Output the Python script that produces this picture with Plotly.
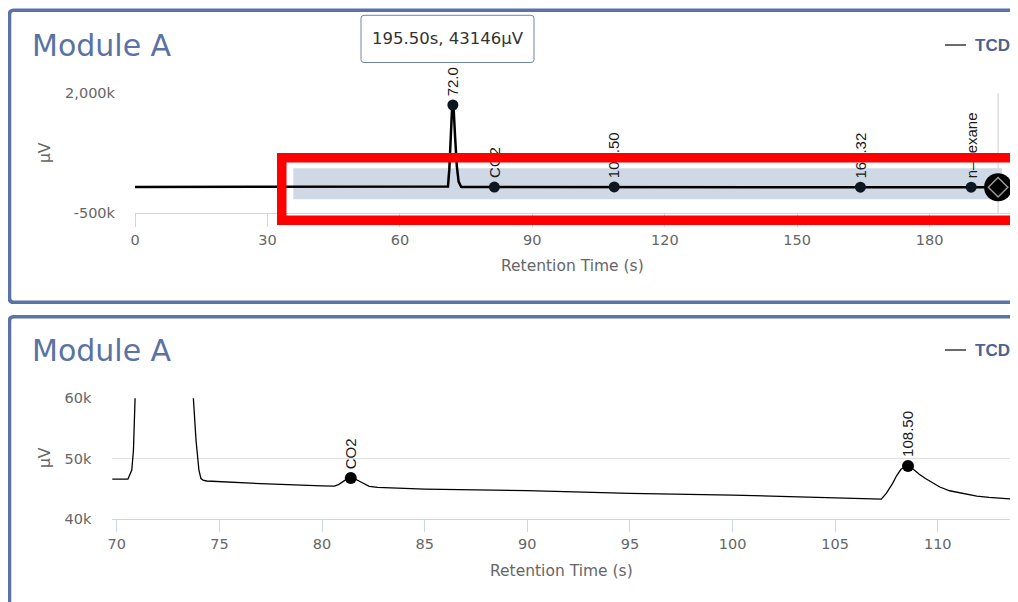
import plotly.graph_objects as go

# ---------------- data ----------------
time_s = [0, 30, 55, 70.0, 70.54, 70.73, 70.81, 70.89, 71.2, 71.5, 71.8, 72.0, 72.2, 72.5,
          72.9, 73.3, 73.73, 73.86, 74.0, 74.1, 74.2, 74.38, 75, 77, 80, 80.6, 80.8, 81.0,
          81.2, 81.4, 81.6, 81.8, 82.0, 82.3, 82.7, 85, 90, 95, 100, 105, 107.25, 107.5,
          107.8, 108.0, 108.2, 108.4, 108.55, 108.75, 108.95, 109.1, 109.4, 109.77, 110.1,
          110.58, 111.4, 111.9, 112.5, 113.0, 113.5, 130, 150, 164.0, 164.32, 164.7, 180,
          189.1, 189.4, 189.7, 195.5]
signal_uv = [46600, 46600, 46600, 46560, 46600, 48100, 51400, 60000, 420000, 1150000, 1650000,
             1756000, 1640000, 1100000, 480000, 160000, 60000, 53000, 48100, 46700, 46450,
             46300, 46170, 45850, 45500, 45450, 45700, 46150, 46600, 46800, 46650, 46300,
             45900, 45400, 45250, 44960, 44700, 44250, 43970, 43500, 43300, 44300, 45900,
             47200, 48200, 48700, 48800, 48400, 47800, 47400, 46700, 45900, 45300, 44680,
             44080, 43800, 43590, 43420, 43330, 43250, 43200, 43150, 44200, 43150, 43150,
             43150, 44000, 43150, 43146]

peak_times = [72.0, 81.4, 108.55, 164.32, 189.4]
peak_values = [1756000, 46800, 48800, 44200, 44000]
peak_labels = ["72.0", "CO2", "108.50", "164.32", "n\u2013hexane"]

hover_time = 195.5
hover_value = 43146
tooltip_text = "195.50s, 43146\u00b5V"

band_x = [35.85, 196.35]
band_y = [-208000, 437500]

top_x_range = [0, 198.2]
top_y_range = [-500000, 2000000]
top_y_ticks = [-500000, 2000000]
top_y_ticktext = ["-500k", "2,000k"]
top_x_ticks = [0, 30, 60, 90, 120, 150, 180]

bot_x_range = [69.78, 113.52]
bot_y_range = [40000, 60000]
bot_y_ticks = [40000, 50000, 60000]
bot_y_ticktext = ["40k", "50k", "60k"]
bot_x_ticks = [70, 75, 80, 85, 90, 95, 100, 105, 110]

panel_title = "Module A"
series_name = "TCD"
x_title = "Retention Time (s)"
y_title = "\u00b5V"

# ---------------- geometry helpers (page pixels -> paper) ----------------
W, H, OFF = 1010, 594, 8


def fx(x):
    return (x - OFF) / W


def fy(y):
    return 1 - (y - OFF) / H


BORDER = "#5a72a4"
TICK_COL = "#666666"
AXIS_LINE = "#ccd6eb"
GRID = "#e0e0e0"
FONT = "DejaVu Sans"

fig = go.Figure()

# top chart
fig.add_trace(go.Scatter(x=time_s, y=signal_uv, mode="lines", xaxis="x", yaxis="y",
                         line=dict(color="#000000", width=2.5), showlegend=False, hoverinfo="skip"))
fig.add_trace(go.Scatter(x=peak_times, y=peak_values, mode="markers", xaxis="x", yaxis="y",
                         marker=dict(color="#0e1621", size=11), showlegend=False))
fig.add_trace(go.Scatter(x=[hover_time], y=[hover_value], mode="markers", xaxis="x", yaxis="y",
                         marker=dict(color="#000000", size=28), cliponaxis=False, showlegend=False))
fig.add_trace(go.Scatter(x=[hover_time], y=[hover_value], mode="markers", xaxis="x", yaxis="y",
                         marker=dict(symbol="diamond-open", color="#9a9a9a", size=15,
                                     line=dict(width=1.5)),
                         cliponaxis=False, showlegend=False))

# bottom chart
fig.add_trace(go.Scatter(x=time_s, y=signal_uv, mode="lines", xaxis="x2", yaxis="y2",
                         line=dict(color="#000000", width=1.3), showlegend=False))
fig.add_trace(go.Scatter(x=peak_times, y=peak_values, mode="markers", xaxis="x2", yaxis="y2",
                         marker=dict(color="#000000", size=12), showlegend=False))

axis_common = dict(zeroline=False, automargin=False, fixedrange=True,
                   tickfont=dict(family=FONT, size=14.5, color=TICK_COL))

fig.update_layout(
    width=W, height=H, autosize=False,
    margin=dict(l=0, r=0, t=0, b=0, pad=0),
    paper_bgcolor="white", plot_bgcolor="rgba(0,0,0,0)",
    font=dict(family=FONT, color=TICK_COL),
    showlegend=False,
    xaxis=dict(domain=[fx(135), fx(1010)], anchor="y", range=top_x_range,
               tickvals=top_x_ticks, ticks="outside", ticklen=13, tickcolor=AXIS_LINE,
               showgrid=False, showline=True, linecolor=AXIS_LINE, linewidth=1,
               **axis_common),
    yaxis=dict(domain=[fy(213.3), fy(93.3)], anchor="x", range=top_y_range,
               tickvals=top_y_ticks, ticktext=top_y_ticktext, ticks="", showline=False,
               ticklabelstandoff=19, showgrid=True, gridcolor=GRID, gridwidth=1,
               **axis_common),
    xaxis2=dict(domain=[fx(112.3), fx(1010)], anchor="y2", range=bot_x_range,
                tickvals=bot_x_ticks, ticks="outside", ticklen=12, tickcolor=AXIS_LINE,
                showgrid=False, showline=True, linecolor=AXIS_LINE, linewidth=1,
                **axis_common),
    yaxis2=dict(domain=[fy(519), fy(398.3)], anchor="x2", range=bot_y_range,
                tickvals=bot_y_ticks, ticktext=bot_y_ticktext, ticks="", showline=False,
                ticklabelstandoff=20, showgrid=True, gridcolor=GRID, gridwidth=1,
                **axis_common),
)

shapes = []
# panel borders (rounded left corners)
r = 4
for top, bottom in [(10.3, 302.3), (316.7, 640)]:
    x0 = 9.5
    path = (f"M {fx(1060)} {fy(top)} L {fx(x0 + r)} {fy(top)} "
            f"Q {fx(x0)} {fy(top)} {fx(x0)} {fy(top + r)} "
            f"L {fx(x0)} {fy(bottom - r)} Q {fx(x0)} {fy(bottom)} {fx(x0 + r)} {fy(bottom)} "
            f"L {fx(1060)} {fy(bottom)}")
    shapes.append(dict(type="path", xref="paper", yref="paper", path=path,
                       line=dict(color=BORDER, width=3.6), layer="above"))

# selection band on top chart
shapes.append(dict(type="rect", xref="x", yref="y", x0=band_x[0], x1=band_x[1],
                   y0=band_y[0], y1=band_y[1], fillcolor="#cfd9e5", line=dict(width=0),
                   layer="below"))
# crosshair
shapes.append(dict(type="line", xref="x", yref="y domain", x0=hover_time, x1=hover_time,
                   y0=0, y1=1, line=dict(color="#cccccc", width=1), layer="below"))

# tooltip box
tx0, tx1, ty0, ty1, tr = 361, 534, 15.3, 62.5, 3
tpath = (f"M {fx(tx0 + tr)} {fy(ty0)} L {fx(tx1 - tr)} {fy(ty0)} "
         f"Q {fx(tx1)} {fy(ty0)} {fx(tx1)} {fy(ty0 + tr)} L {fx(tx1)} {fy(ty1 - tr)} "
         f"Q {fx(tx1)} {fy(ty1)} {fx(tx1 - tr)} {fy(ty1)} L {fx(tx0 + tr)} {fy(ty1)} "
         f"Q {fx(tx0)} {fy(ty1)} {fx(tx0)} {fy(ty1 - tr)} L {fx(tx0)} {fy(ty0 + tr)} "
         f"Q {fx(tx0)} {fy(ty0)} {fx(tx0 + tr)} {fy(ty0)} Z")
shapes.append(dict(type="path", xref="paper", yref="paper", path=tpath,
                   fillcolor="white", line=dict(color="#6f84ae", width=1), layer="above"))

# legend line symbols
for ly in (45, 350):
    shapes.append(dict(type="line", xref="paper", yref="paper", x0=fx(945), x1=fx(966),
                       y0=fy(ly), y1=fy(ly), line=dict(color="#6b6b6b", width=2)))

fig.update_layout(shapes=shapes)

ann = []
for ty in (45, 350):
    ann.append(dict(text=panel_title, xref="paper", yref="paper", x=fx(30), y=fy(ty),
                    xanchor="left", yanchor="middle", showarrow=False,
                    font=dict(family=FONT, size=30, color=BORDER)))
    ann.append(dict(text=f"<b>{series_name}</b>", xref="paper", yref="paper", x=fx(973),
                    y=fy(ty), xanchor="left", yanchor="middle", showarrow=False,
                    font=dict(family="Liberation Sans", size=17, color="#4d6290")))

ann.append(dict(text=tooltip_text, xref="paper", yref="paper", x=fx(447.5), y=fy(38.5),
                xanchor="center", yanchor="middle", showarrow=False,
                font=dict(family=FONT, size=16.5, color="#333333")))

# axis titles
for cx, cy in ((572.5, 266), (561, 571)):
    ann.append(dict(text=x_title, xref="paper", yref="paper", x=fx(cx), y=fy(cy),
                    xanchor="center", yanchor="middle", showarrow=False,
                    font=dict(family=FONT, size=15.5, color=TICK_COL)))
for cy in (153, 458):
    ann.append(dict(text=y_title, xref="paper", yref="paper", x=fx(45), y=fy(cy),
                    xanchor="center", yanchor="middle", showarrow=False, textangle=-90,
                    font=dict(family=FONT, size=15.5, color=TICK_COL)))

# peak labels
for t, v, lab in zip(peak_times, peak_values, peak_labels):
    ann.append(dict(text=lab, xref="x", yref="y", x=t, y=v, xanchor="center",
                    yanchor="bottom", yshift=7, textangle=-90, showarrow=False,
                    font=dict(family="Liberation Sans", size=15, color="#1a1a1a")))
    if bot_x_range[0] <= t <= bot_x_range[1] and bot_y_range[0] <= v <= bot_y_range[1]:
        ann.append(dict(text=lab, xref="x2", yref="y2", x=t, y=v, xanchor="center",
                        yanchor="bottom", yshift=7, textangle=-90, showarrow=False,
                        font=dict(family="Liberation Sans", size=15, color="#1a1a1a")))

# red highlight rectangle, drawn last so it covers the labels (as in the reference)
RW = 9.5
rx0, rx1, ry0, ry1 = 282, 1017.6, 157.6, 220
ann.append(dict(text=" ", xref="paper", yref="paper",
                x=fx(rx0 - RW / 2), y=fy(ry0 - RW / 2), xanchor="left", yanchor="top",
                width=(rx1 - rx0) - RW, height=(ry1 - ry0) - RW, borderpad=0,
                bordercolor="#ff0000", borderwidth=RW, bgcolor="rgba(0,0,0,0)",
                showarrow=False))

fig.update_layout(annotations=ann)

fig.write_html("out.html")
